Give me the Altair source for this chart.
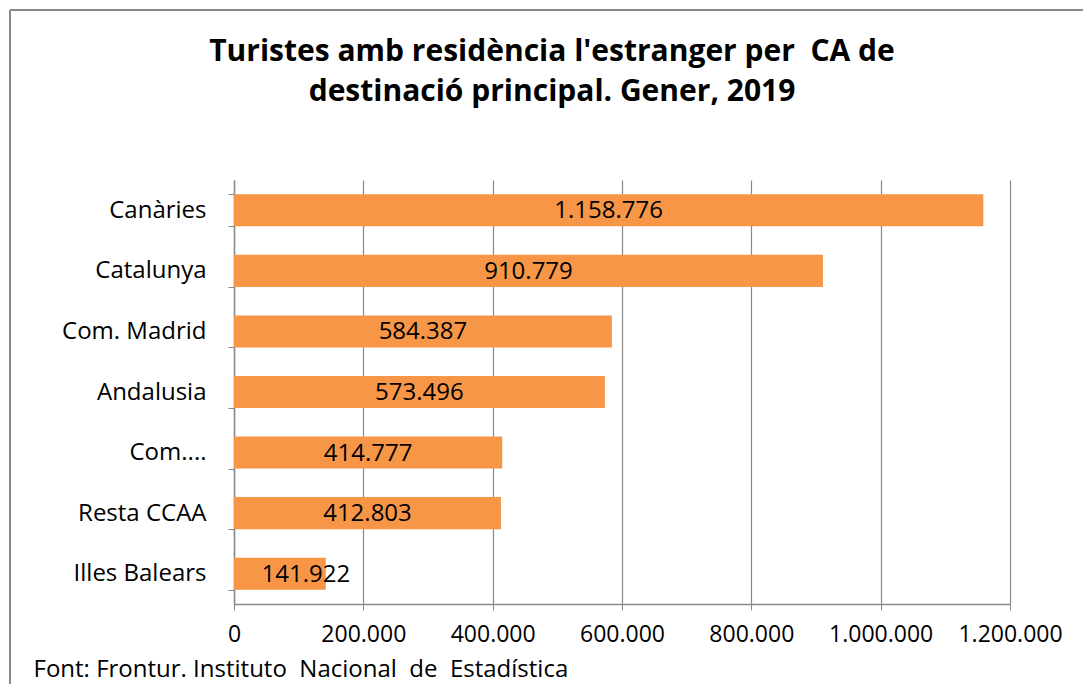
import altair as alt
import pandas as pd

categories = ["Canàries", "Catalunya", "Com. Madrid", "Andalusia", "Com....", "Resta CCAA", "Illes Balears"]
values = [1158776, 910779, 584387, 573496, 414777, 412803, 141922]
x_ticks = [0, 200000, 400000, 600000, 800000, 1000000, 1200000]

NB = "\u00a0"
title_lines = ["Turistes amb residència l'estranger per " + NB + "CA de", "destinació principal. Gener, 2019"]
footer = "Font: Frontur. Instituto " + NB + "Nacional " + NB + "de " + NB + "Estadística"

df = pd.DataFrame({"cat": categories, "value": values})

FONT = "Open Sans"
GRAY = "#898989"

base = alt.Chart(df)

bars = base.mark_bar(color="#F79646").encode(
    y=alt.Y(
        "cat:N",
        sort=categories,
        scale=alt.Scale(paddingInner=0.47, paddingOuter=0.235),
        axis=alt.Axis(
            title=None,
            labelFont=FONT,
            labelFontSize=24,
            labelColor="black",
            labelPadding=22,
            tickBand="extent",
            tickSize=6,
            tickColor=GRAY,
            domainColor=GRAY,
            domainWidth=1.5,
            grid=False,
        ),
    ),
    x=alt.X(
        "value:Q",
        scale=alt.Scale(domain=[0, 1200000], nice=False, zero=True),
        axis=alt.Axis(
            values=x_ticks,
            format=",d",
            title=footer,
            titleFont=FONT,
            titleFontSize=24,
            titleFontWeight="normal",
            titleColor="black",
            titleAnchor="start",
            titleAlign="left",
            titleBaseline="alphabetic",
            titleX=-201,
            titleY=72,
            labelFont=FONT,
            labelFontSize=23,
            labelColor="black",
            labelPadding=13,
            labelFlush=False,
            tickSize=6,
            tickColor=GRAY,
            domainColor=GRAY,
            domainWidth=1.5,
            grid=True,
            gridColor=GRAY,
            gridWidth=1.2,
        ),
    ),
)

text = base.transform_calculate(
    lx="max(datum.value / 2, 111000)"
).mark_text(font=FONT, fontSize=24, color="black", align="center", baseline="middle", dy=1).encode(
    x="lx:Q",
    y=alt.Y("cat:N", sort=categories),
    text=alt.Text("value:Q", format=",d"),
)

frame_df = pd.DataFrame({"k": [0]})
frame_top = alt.Chart(frame_df).mark_rule(color=GRAY, strokeWidth=2).encode(
    x=alt.value(-224), x2=alt.value(900), y=alt.value(-170)
)
frame_left = alt.Chart(frame_df).mark_rule(color=GRAY, strokeWidth=2).encode(
    x=alt.value(-224), y=alt.value(-170), y2=alt.value(600)
)

chart = alt.layer(frame_top, frame_left, bars, text).properties(
    width=776,
    height=424,
    autosize=alt.AutoSizeParams(type="none"),
    padding={"left": 226, "top": 172, "right": 73, "bottom": 80},
    title=alt.TitleParams(
        text=title_lines,
        font=FONT,
        fontSize=30,
        fontWeight="bold",
        color="black",
        lineHeight=40,
        anchor="middle",
        baseline="alphabetic",
        dx=-70,
        offset=-122,
    ),
).configure(
    locale={"number": {"decimal": ",", "thousands": ".", "grouping": [3], "currency": ["", " €"]}}
).configure_view(stroke=None)

chart.save("out.html", embed_options={"renderer": "svg", "actions": False})
